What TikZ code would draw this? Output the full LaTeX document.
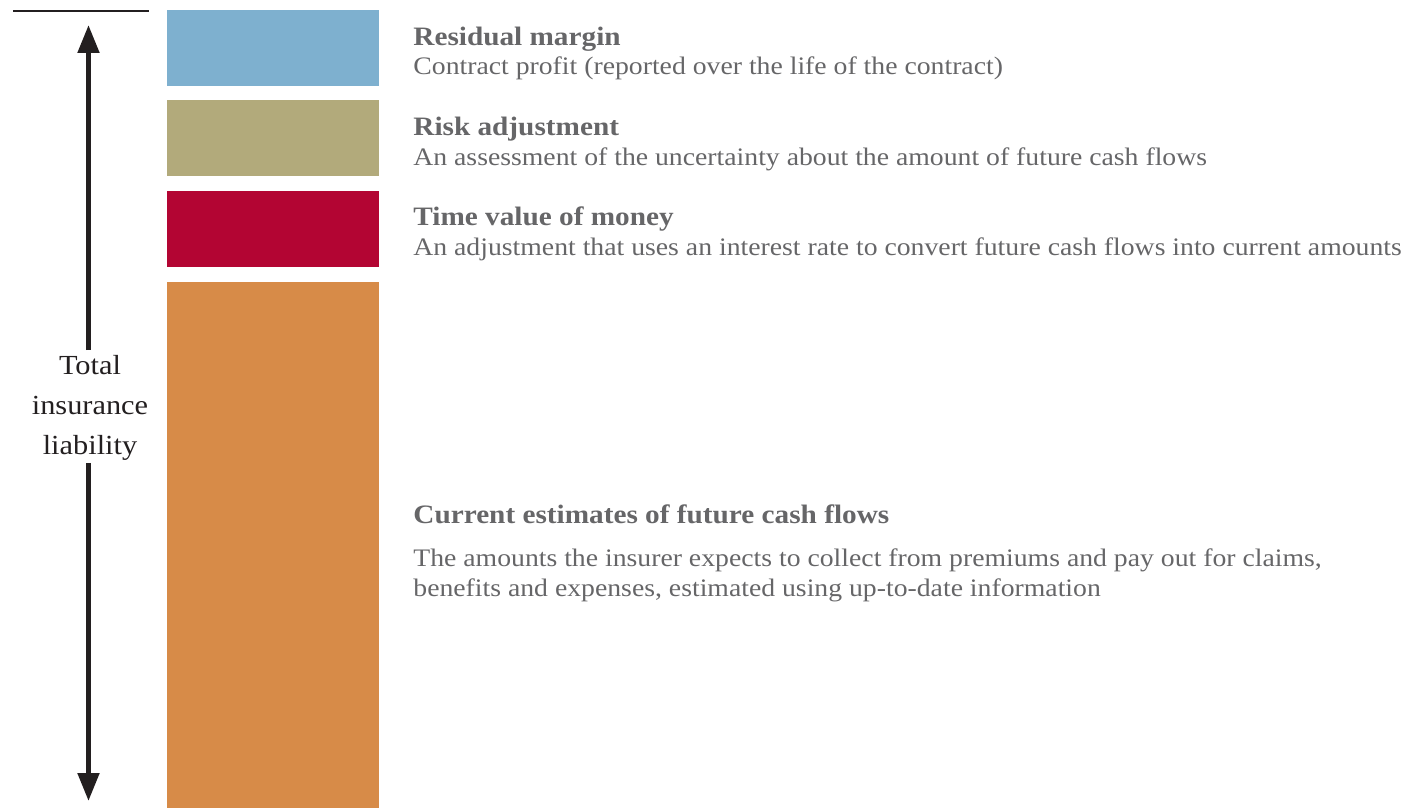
\documentclass[tikz,border=0pt]{standalone}
\usepackage{fontspec}
\setmainfont{Liberation Serif}[FakeStretch=1.1]
\usetikzlibrary{arrows.meta}

\definecolor{marginblue}{HTML}{7EB0CF}
\definecolor{riskkhaki}{HTML}{B2AA7B}
\definecolor{moneyred}{HTML}{B30533}
\definecolor{cashorange}{HTML}{D78B48}
\definecolor{textgray}{HTML}{666668}
\definecolor{inkdark}{HTML}{231F20}

\begin{document}
\begin{tikzpicture}[x=0.5pt,y=-0.5pt,
    block/.style={fill=#1, draw=none, anchor=north west, inner sep=0pt,
                  minimum width=106pt},
    head/.style={anchor=base west, inner sep=0pt, text=textgray,
                 font=\fontsize{13.3}{15}\selectfont\bfseries},
    desc/.style={anchor=base west, inner sep=0pt, text=textgray, align=left,
                 font=\fontsize{12.6}{14.75}\selectfont}]

    % --- Frame (keeps the margins of the page) ---
    \useasboundingbox (0,0) rectangle (1414,808);

    % --- Coloured blocks ---
    \node[block=marginblue, minimum height=38pt]  (margin) at (167,10)  {};
    \node[block=riskkhaki,  minimum height=38pt]  (risk)   at (167,100) {};
    \node[block=moneyred,   minimum height=38pt]  (money)  at (167,191) {};
    \node[block=cashorange, minimum height=263pt] (cash)   at (167,282) {};

    % --- Texts beside the blocks ---
    \node[head] (marginhead) at (413,46)  {Residual margin};
    \node[desc] (margintext) at (413,75)  {Contract profit (reported over the life of the contract)};
    \node[head] (riskhead)   at (413,136) {Risk adjustment};
    \node[desc] (risktext)   at (413,165) {An assessment of the uncertainty about the amount of future cash flows};
    \node[head] (moneyhead)  at (413,226) {Time value of money};
    \node[desc] (moneytext)  at (413,255) {An adjustment that uses an interest rate to convert future cash flows into current amounts};
    \node[head] (cashhead)   at (413,523) {Current estimates of future cash flows};
    % base of a two-line node sits on its last line
    \node[desc] (cashtext)   at (413,596) {The amounts the insurer expects to collect from premiums and pay out for claims,\\
                                           benefits and expenses, estimated using up-to-date information};

    % --- Total liability arrow ---
    \coordinate (top)    at (88.5,25);
    \coordinate (bottom) at (88.5,801);
    \draw[line width=1pt, inkdark] (13,11) -- (149,11);
    \node[text=inkdark, align=center, inner sep=0pt,
          font=\fontsize{13.8}{20}\selectfont] (total) at (90,408)
        {Total\\insurance\\liability};
    \draw[-{Triangle[length=14pt,width=10.5pt]}, line width=2.5pt, inkdark]
        ([yshift=2.5pt]total.north -| top) -- (top);
    \draw[-{Triangle[length=14pt,width=10.5pt]}, line width=2.5pt, inkdark]
        ([yshift=-1pt]total.south -| bottom) -- (bottom);

\end{tikzpicture}
\end{document}
